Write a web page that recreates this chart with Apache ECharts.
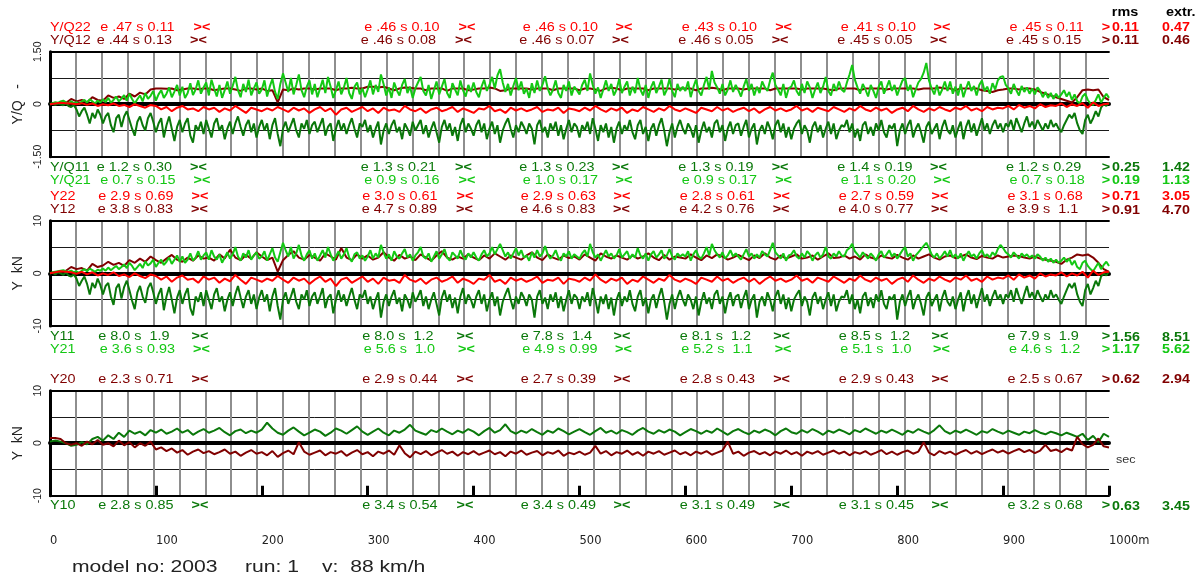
<!DOCTYPE html>
<html>
<head>
<meta charset="utf-8">
<script src="https://cdn.jsdelivr.net/npm/echarts@6/dist/echarts.min.js"></script>
<style>
html,body{margin:0;padding:0;background:#fff}
#chart{width:1204px;height:580px}
</style>
</head>
<body>
<div id="chart"></div>
<script>
// Lateral forces along a 1000 m run. Coarse traces are sampled every 5 m,
// the noisy wheel traces every 2.5 m.
const STEP = 5;
const STEP_FINE = 2.5;
const SPEED_KMH = 88;

// ---- panel 1: Y/Q ratios ----
const yq12 = [
 0.00,0.02,0.03,0.03,0.15,0.08,0.12,0.05,0.20,0.12,
 0.10,0.25,0.18,0.22,0.15,0.30,0.22,0.33,0.28,0.42,
 0.45,0.45,0.44,0.45,0.40,0.42,0.45,0.45,0.43,0.45,
 0.45,0.40,0.43,0.45,0.45,0.42,0.38,0.45,0.45,0.42,
 0.45,0.38,0.40,0.05,0.42,0.40,0.45,0.42,0.45,0.45,
 0.42,0.45,0.45,0.45,0.40,0.45,0.45,0.47,0.45,0.45,
 0.50,0.50,0.48,0.50,0.45,0.40,0.45,0.48,0.47,0.45,
 0.45,0.40,0.45,0.45,0.45,0.38,0.45,0.45,0.45,0.40,
 0.42,0.45,0.45,0.48,0.45,0.38,0.40,0.45,0.45,0.45,
 0.45,0.42,0.45,0.45,0.45,0.40,0.45,0.45,0.45,0.45,
 0.40,0.45,0.45,0.42,0.38,0.45,0.47,0.45,0.40,0.45,
 0.45,0.45,0.45,0.40,0.45,0.45,0.45,0.45,0.42,0.45,
 0.45,0.45,0.40,0.45,0.45,0.47,0.45,0.40,0.45,0.45,
 0.45,0.42,0.45,0.45,0.45,0.45,0.40,0.45,0.45,0.45,
 0.45,0.45,0.42,0.45,0.45,0.45,0.45,0.42,0.40,0.45,
 0.45,0.45,0.45,0.40,0.45,0.45,0.45,0.45,0.42,0.45,
 0.45,0.45,0.45,0.45,0.42,0.45,0.45,0.45,0.48,0.45,
 0.45,0.40,0.45,0.45,0.45,0.45,0.40,0.38,0.35,0.40,
 0.42,0.45,0.45,0.42,0.45,0.45,0.42,0.35,0.30,0.25,
 0.20,0.15,0.10,0.05,0.20,0.40,0.42,0.40,0.42,0.20,
 0.12
];
const yq22 = [
 0.00,0.02,0.04,0.03,0.02,0.00,0.03,-0.02,0.02,-0.05,
 0.00,-0.03,0.02,-0.05,-0.02,-0.08,0.00,-0.05,-0.10,-0.02,
 -0.05,-0.15,-0.08,-0.20,-0.10,-0.05,-0.15,-0.12,-0.20,-0.08,
 -0.15,-0.10,-0.22,-0.12,-0.18,-0.05,-0.15,-0.25,-0.10,-0.15,
 -0.20,-0.12,-0.18,-0.08,-0.15,-0.22,-0.10,-0.18,-0.12,-0.25,
 -0.15,-0.08,-0.20,-0.12,-0.30,-0.15,-0.10,-0.22,-0.15,-0.08,
 -0.20,-0.12,-0.25,-0.10,-0.18,-0.15,-0.22,-0.05,-0.15,-0.20,
 -0.12,-0.25,-0.15,-0.10,-0.20,-0.15,-0.08,-0.22,-0.12,-0.18,
 -0.25,-0.12,-0.15,-0.05,-0.20,-0.15,-0.25,-0.10,-0.18,-0.12,
 -0.20,-0.15,-0.08,-0.22,-0.15,-0.18,-0.10,-0.25,-0.12,-0.15,
 -0.20,-0.10,-0.18,-0.05,-0.15,-0.22,-0.12,-0.18,-0.10,-0.25,
 -0.15,-0.20,-0.08,-0.15,-0.22,-0.12,-0.18,-0.05,-0.15,-0.20,
 -0.12,-0.18,-0.25,-0.10,-0.15,-0.20,-0.08,-0.18,-0.12,-0.22,
 -0.15,-0.10,-0.20,-0.12,-0.25,-0.15,-0.08,-0.18,-0.12,-0.20,
 -0.15,-0.05,-0.18,-0.12,-0.22,-0.10,-0.15,-0.20,-0.08,-0.15,
 -0.22,-0.12,-0.18,-0.05,-0.15,-0.20,-0.10,-0.18,-0.12,-0.25,
 -0.15,-0.10,-0.20,-0.05,-0.15,-0.22,-0.12,-0.18,-0.08,-0.15,
 -0.20,-0.10,-0.15,-0.05,-0.18,-0.12,-0.20,-0.08,-0.15,-0.10,
 -0.12,-0.05,-0.15,-0.02,-0.10,-0.05,-0.12,0.00,-0.08,-0.03,
 -0.05,0.02,-0.08,0.00,-0.05,0.03,-0.10,0.05,-0.05,0.00,
 0.02
];
const yq21 = [
 0.00,0.03,0.06,0.04,0.08,0.10,0.05,0.02,0.08,0.03,0.06,0.00,0.08,0.12,0.05,0.14,0.08,0.02,0.10,0.05,
 0.14,0.06,0.18,0.04,0.12,0.22,0.08,0.16,0.26,0.10,0.30,0.15,0.02,0.14,0.25,0.08,0.32,0.15,0.24,0.38,
 0.10,0.28,0.40,0.18,0.30,0.48,0.20,0.36,0.55,0.25,0.50,0.18,0.32,0.60,0.26,0.42,0.68,0.30,0.48,0.62,
 0.25,0.70,0.45,0.22,0.55,0.18,0.40,0.65,0.30,0.52,0.78,0.40,0.20,0.58,0.35,0.70,0.25,0.45,0.62,0.30,
 0.42,0.68,0.22,0.50,0.72,0.35,0.15,0.58,0.88,0.62,0.35,0.75,0.28,0.55,0.85,0.40,0.20,0.50,0.68,0.28,
 0.58,0.20,0.45,0.70,0.32,0.78,0.50,0.18,0.40,0.65,0.28,0.48,0.75,0.32,0.15,0.50,0.62,0.28,0.45,0.20,
 0.42,0.68,0.28,0.55,0.35,0.85,0.58,0.25,0.48,0.18,0.62,0.40,0.25,0.55,0.72,0.32,0.50,0.18,0.45,0.62,
 0.78,0.38,0.25,0.55,0.15,0.40,0.65,0.28,0.50,0.72,0.32,0.18,0.60,0.42,0.25,0.68,0.40,0.22,0.55,0.35,
 0.62,0.35,0.20,0.50,0.70,0.38,0.55,0.78,0.45,0.82,1.00,0.62,0.35,0.58,0.25,0.52,0.75,0.40,0.65,0.30,
 0.45,0.18,0.60,0.32,0.68,0.38,0.55,0.80,0.45,0.25,0.42,0.68,0.32,0.18,0.55,0.38,0.65,0.25,0.50,0.40,
 0.28,0.55,0.70,0.38,0.88,0.55,0.30,0.48,0.18,0.42,0.68,0.38,0.58,0.25,0.42,0.72,0.32,0.50,0.65,0.25,
 0.50,0.32,0.75,0.42,0.25,0.55,0.18,0.48,0.65,0.32,0.50,0.70,0.25,0.42,0.72,0.38,0.20,0.58,0.38,0.50,
 0.38,0.65,0.20,0.48,0.70,0.38,0.25,0.55,0.78,0.42,0.95,0.62,0.48,0.30,0.58,0.25,0.42,0.68,0.35,0.55,
 0.40,0.22,0.50,0.72,0.38,0.58,0.25,0.50,0.32,0.65,0.48,0.38,0.68,0.90,0.55,0.42,0.25,0.58,0.18,0.45,
 0.50,0.68,0.38,0.25,0.58,0.32,0.65,0.48,0.18,0.42,0.62,0.32,0.50,0.78,0.38,0.25,0.58,0.38,0.65,0.42,
 0.35,0.62,0.85,1.12,0.70,0.48,0.30,0.58,0.42,0.22,0.55,0.38,0.18,0.50,0.65,0.30,0.48,0.68,0.38,0.55,
 0.25,0.48,0.68,0.75,0.38,0.55,0.20,0.42,0.62,0.72,0.90,1.18,0.68,0.45,0.28,0.55,0.25,0.42,0.65,0.38,
 0.65,0.30,0.50,0.25,0.58,0.20,0.45,0.65,0.38,0.52,0.25,0.55,0.68,0.38,0.50,0.30,0.60,0.42,0.68,0.78,
 0.80,0.55,0.45,0.30,0.58,0.40,0.25,0.52,0.35,0.48,0.30,0.45,0.28,0.48,0.38,0.20,0.35,0.18,0.32,0.15,
 0.30,0.18,0.28,0.40,0.22,0.35,0.12,0.28,0.08,0.02,0.22,0.30,0.12,0.02,-0.02,0.12,0.28,0.05,0.18,0.30,
 0.18
];
const yq11 = [
 0.00,0.01,-0.02,0.02,0.00,-0.03,0.02,-0.05,-0.08,-0.02,-0.15,-0.35,-0.20,-0.10,-0.30,-0.55,-0.25,-0.40,-0.15,-0.30,
 -0.55,-0.35,-0.25,-0.60,-0.80,-0.40,-0.30,-0.65,-0.35,-0.20,-0.45,-0.70,-0.90,-0.50,-0.35,-0.60,-0.75,-0.40,-0.25,-0.50,
 -0.80,-0.55,-0.40,-0.95,-0.60,-0.35,-0.70,-1.05,-0.65,-0.45,-0.80,-0.55,-0.40,-0.90,-1.10,-0.60,-0.75,-0.50,-0.85,-0.45,
 -0.70,-0.95,-0.55,-0.40,-0.75,-0.60,-1.00,-0.70,-0.50,-0.85,-0.55,-0.35,-0.65,-0.90,-0.60,-0.45,-0.80,-0.55,-0.95,-0.65,
 -0.45,-0.75,-0.55,-1.00,-0.60,-0.40,-0.85,-1.20,-0.70,-0.50,-0.80,-0.60,-0.40,-0.75,-0.95,-0.55,-0.70,-0.45,-0.85,-0.60,
 -0.50,-0.80,-0.60,-0.40,-0.90,-0.65,-0.55,-1.05,-0.70,-0.45,-0.75,-0.55,-0.85,-0.60,-0.40,-0.70,-0.95,-0.55,-0.65,-0.45,
 -0.80,-0.60,-0.95,-0.70,-0.50,-1.15,-0.75,-0.55,-0.85,-0.60,-0.45,-0.80,-0.65,-1.00,-0.55,-0.70,-0.90,-0.50,-0.75,-0.60,
 -0.45,-0.85,-0.60,-0.95,-0.70,-0.50,-0.80,-1.10,-0.65,-0.45,-0.75,-0.55,-0.90,-0.65,-1.05,-0.60,-0.40,-0.80,-0.55,-0.70,
 -0.90,-0.60,-0.45,-0.80,-0.55,-1.00,-0.70,-0.50,-0.85,-0.60,-1.10,-0.75,-0.55,-0.40,-0.70,-0.95,-0.60,-0.80,-0.50,-0.65,
 -0.85,-0.55,-0.70,-1.15,-0.60,-0.45,-0.80,-0.65,-0.95,-0.55,-0.75,-0.50,-0.90,-0.60,-1.00,-0.70,-0.45,-0.80,-0.55,-0.65,
 -0.95,-0.60,-0.75,-0.50,-0.85,-0.40,-0.70,-1.05,-0.60,-0.80,-0.55,-0.95,-0.65,-1.10,-0.70,-0.50,-0.85,-0.60,-0.75,-0.45,
 -0.80,-1.00,-0.60,-0.45,-0.85,-0.65,-1.05,-0.70,-0.55,-0.90,-0.60,-0.40,-0.75,-1.20,-0.80,-0.55,-0.95,-0.65,-0.45,-0.70,
 -0.85,-0.55,-0.70,-0.95,-0.60,-1.10,-0.75,-0.50,-0.80,-0.65,-0.95,-0.55,-0.45,-0.80,-0.60,-1.05,-0.70,-0.50,-0.85,-0.60,
 -0.55,-0.90,-0.65,-0.45,-0.95,-0.70,-0.55,-1.15,-0.75,-0.60,-0.85,-0.50,-0.70,-1.00,-0.60,-0.45,-0.80,-0.55,-0.95,-0.65,
 -1.00,-0.70,-0.55,-0.45,-0.85,-0.60,-0.75,-1.10,-0.65,-0.50,-0.80,-0.60,-0.95,-0.70,-0.50,-0.85,-0.55,-1.00,-0.75,-0.60,
 -0.65,-0.45,-0.80,-0.55,-0.95,-0.70,-1.05,-0.60,-0.50,-0.85,-0.65,-0.90,-0.55,-0.75,-0.45,-0.80,-0.95,-0.60,-0.70,-0.55,
 -1.20,-0.75,-0.55,-0.85,-0.60,-0.45,-0.95,-0.70,-0.55,-0.80,-1.10,-0.65,-0.50,-0.85,-0.70,-0.55,-1.00,-0.65,-0.45,-0.75,
 -0.85,-0.60,-0.95,-0.70,-0.50,-1.00,-0.65,-0.45,-0.80,-0.55,-0.90,-0.65,-0.40,-0.75,-0.55,-0.85,-0.60,-0.45,-0.70,-0.55,
 -0.80,-0.55,-0.65,-0.45,-0.75,-0.40,-0.60,-0.80,-0.55,-0.35,-0.65,-0.50,-0.70,-0.45,-0.60,-0.75,-0.55,-0.70,-0.45,-0.65,
 -0.55,-0.70,-0.80,-0.60,-0.45,-0.30,-0.40,-0.25,-0.55,-0.75,-0.85,-0.45,-0.30,-0.55,-0.40,-0.20,-0.35,-0.10,0.00,-0.05,
 0.05
];

// ---- panel 2: lateral forces Y, kN ----
const y12 = [
 0.0,0.2,0.3,0.5,1.2,0.8,1.0,0.5,1.8,1.2,
 1.5,2.2,1.6,2.0,1.4,2.5,2.0,2.8,2.2,3.2,
 2.5,2.0,2.8,3.5,2.6,2.2,3.0,2.4,3.4,2.8,
 3.0,2.4,3.6,2.8,4.5,3.0,2.5,3.5,2.8,4.0,
 3.2,2.5,3.0,0.3,2.5,3.5,4.2,3.0,2.6,3.5,
 3.0,2.4,3.8,3.2,2.6,4.8,3.0,2.5,3.6,2.8,
 3.4,2.6,3.0,4.0,3.0,2.4,3.5,2.8,3.2,2.5,
 3.6,3.0,2.4,3.4,4.2,3.0,2.6,3.2,2.8,3.6,
 3.0,2.5,3.4,2.8,3.8,3.2,2.6,3.4,3.0,2.6,
 3.4,4.0,3.0,2.5,3.6,3.0,2.6,3.4,2.9,3.2,
 2.6,3.6,3.0,2.4,3.8,3.2,2.8,3.4,3.0,2.6,
 3.4,2.8,3.2,3.8,3.0,2.5,3.5,2.6,3.2,3.0,
 2.8,3.6,3.0,2.5,3.4,2.9,3.6,3.2,2.6,3.0,
 3.5,3.0,2.5,3.4,2.9,3.8,3.0,2.6,3.4,2.8,
 3.2,3.6,2.8,3.0,3.4,2.6,3.2,3.8,2.9,3.0,
 3.4,2.8,3.2,2.6,3.6,3.0,2.7,3.4,3.0,2.8,
 3.5,3.0,2.6,3.4,2.8,3.2,3.6,3.0,2.6,3.2,
 3.4,2.9,3.2,3.6,3.0,2.7,3.3,3.0,2.8,3.4,
 3.0,3.2,3.4,3.3,3.0,2.8,3.2,2.8,2.6,2.4,
 2.2,1.8,2.6,3.0,3.6,3.4,3.6,3.0,2.0,0.8,
 0.3
];
const y22 = [
 0.0,0.2,0.4,0.3,0.2,-0.1,0.3,-0.2,0.2,-0.4,
 0.0,-0.3,0.2,-0.5,-0.2,-0.7,0.0,-0.5,-0.9,-0.2,
 -0.5,-1.2,-0.6,-1.6,-0.8,-0.4,-1.2,-1.0,-1.8,-0.6,
 -1.2,-0.8,-1.8,-1.0,-1.5,-0.3,-1.2,-2.0,-0.8,-1.2,
 -1.6,-1.0,-1.4,-0.5,-1.2,-1.8,-0.8,-1.4,-1.0,-2.0,
 -1.2,-0.6,-1.6,-1.0,-2.4,-1.2,-0.8,-1.8,-1.2,-0.6,
 -1.6,-1.0,-2.0,-0.8,-1.4,-1.2,-1.8,-0.3,-1.2,-1.6,
 -1.0,-2.0,-1.2,-0.8,-1.6,-1.2,-0.6,-1.8,-1.0,-1.4,
 -2.0,-1.0,-1.2,-0.3,-1.6,-1.2,-2.0,-0.8,-1.4,-1.0,
 -1.6,-1.2,-0.6,-1.8,-1.2,-1.4,-0.8,-2.0,-1.0,-1.2,
 -1.6,-0.8,-1.4,-0.2,-1.2,-1.8,-1.0,-1.4,-0.8,-2.0,
 -1.2,-1.6,-0.6,-1.2,-1.8,-1.0,-1.4,-0.3,-1.2,-1.6,
 -1.0,-1.4,-2.0,-0.8,-1.2,-1.6,-0.6,-1.4,-1.0,-1.8,
 -1.2,-0.8,-1.6,-1.0,-2.0,-1.2,-0.6,-1.4,-1.0,-1.6,
 -1.2,-0.4,-1.4,-1.0,-1.8,-0.8,-1.2,-1.6,-0.6,-1.2,
 -1.8,-1.0,-1.4,-0.4,-1.2,-1.6,-0.8,-1.4,-1.0,-2.0,
 -1.2,-0.8,-1.6,-0.4,-1.2,-1.8,-1.0,-1.4,-0.6,-1.2,
 -1.6,-0.8,-1.2,-0.4,-1.4,-1.0,-1.6,-0.6,-1.2,-0.8,
 -1.0,-0.4,-1.2,-0.2,-0.8,-0.4,-1.0,0.0,-0.6,-0.2,
 -0.4,0.2,-0.6,0.0,-0.4,0.3,-0.8,0.5,-0.3,0.2,
 0.3
];
const y21 = [
 0.0,0.2,0.3,0.4,0.5,0.6,0.4,0.3,0.5,0.2,0.4,0.1,0.5,0.8,0.4,0.9,0.6,0.3,0.7,0.5,
 0.9,0.5,1.1,0.6,1.0,1.4,0.8,1.2,1.7,1.0,2.0,1.4,0.6,1.2,1.8,1.0,2.3,1.5,1.9,2.6,
 1.2,2.0,2.6,1.6,2.2,3.0,1.8,2.6,3.4,2.2,3.2,2.0,2.6,3.8,2.4,3.0,4.2,2.6,3.4,4.0,
 2.6,4.4,3.2,2.6,3.6,2.0,3.0,4.0,2.8,3.6,5.0,3.2,2.4,3.8,3.0,4.4,2.6,3.4,4.0,2.8,
 3.2,4.2,2.4,3.6,4.8,3.0,2.2,4.0,5.8,4.4,3.2,5.0,2.8,3.8,5.4,3.4,2.4,3.6,4.4,2.8,
 3.8,2.4,3.4,4.4,3.0,5.0,3.6,2.4,3.2,4.2,2.8,3.6,4.8,3.0,2.2,3.6,4.0,2.8,3.4,2.4,
 3.2,4.4,2.8,3.8,3.0,5.4,4.0,2.8,3.6,2.4,4.2,3.2,2.8,3.8,4.6,3.0,3.6,2.4,3.4,4.0,
 5.0,3.2,2.8,3.8,2.2,3.2,4.2,2.8,3.6,4.6,3.0,2.4,4.0,3.4,2.8,4.4,3.2,2.6,3.8,3.0,
 4.0,3.0,2.4,3.6,4.4,3.2,3.8,5.0,3.6,4.6,5.6,4.4,3.2,4.0,2.8,3.8,4.8,3.4,4.4,3.0,
 3.4,2.4,4.0,3.0,4.4,3.2,3.8,5.2,3.6,2.8,3.4,4.4,3.0,2.4,3.8,3.2,4.2,2.8,3.6,3.2,
 2.8,3.8,4.4,3.2,5.6,4.0,3.0,3.6,2.4,3.4,4.4,3.2,3.8,2.8,3.4,4.6,3.0,3.6,4.2,2.8,
 3.6,3.0,4.8,3.4,2.8,3.8,2.4,3.6,4.2,3.0,3.6,4.4,2.8,3.4,4.6,3.2,2.6,3.8,3.2,3.6,
 3.2,4.2,2.4,3.6,4.4,3.2,2.8,3.8,5.0,3.4,5.6,4.4,3.6,3.0,4.0,2.8,3.4,4.4,3.2,3.8,
 3.2,2.6,3.6,4.6,3.2,3.8,2.8,3.6,3.0,4.2,3.6,3.2,4.4,5.8,4.0,3.4,2.8,3.8,2.4,3.4,
 3.6,4.4,3.2,2.8,3.8,3.0,4.2,3.6,2.4,3.4,4.0,3.0,3.6,5.0,3.2,2.8,3.8,3.2,4.2,3.4,
 3.2,4.4,4.8,5.6,4.2,3.6,3.0,4.0,3.4,2.8,3.8,3.2,2.4,3.6,4.2,3.0,3.6,4.4,3.2,3.8,
 2.8,3.6,4.4,5.0,3.2,3.8,2.4,3.4,4.0,4.6,5.2,5.8,4.8,3.6,3.0,3.8,2.8,3.4,4.2,3.2,
 4.4,3.0,3.6,2.8,3.8,2.4,3.4,4.2,3.2,3.6,2.8,3.8,4.4,3.2,3.6,3.0,4.0,3.4,4.6,5.4,
 4.8,4.0,3.6,3.0,4.0,3.4,2.8,3.8,3.2,3.6,3.0,3.4,2.8,3.6,3.2,2.4,3.0,2.2,2.8,2.0,
 2.6,2.0,2.4,3.0,2.2,2.8,1.6,2.4,1.2,0.8,2.0,2.4,1.4,0.8,0.4,1.2,2.0,0.8,1.6,2.2,
 1.4
];
const y11 = [
 0.0,0.1,-0.2,0.2,0.0,-0.3,0.2,-0.4,-0.6,-0.2,-1.0,-2.4,-1.4,-0.6,-2.0,-4.0,-1.8,-2.8,-1.0,-2.2,
 -4.0,-2.4,-1.8,-4.4,-6.0,-2.8,-2.0,-4.8,-2.6,-1.4,-3.2,-5.2,-6.8,-3.6,-2.4,-4.4,-5.6,-2.8,-1.8,-3.6,
 -5.8,-4.0,-2.8,-7.0,-4.4,-2.6,-5.0,-7.6,-4.6,-3.2,-5.8,-4.0,-2.8,-6.6,-8.0,-4.4,-5.4,-3.6,-6.2,-3.2,
 -5.0,-6.8,-4.0,-2.8,-5.4,-4.4,-7.2,-5.0,-3.6,-6.2,-4.0,-2.4,-4.6,-6.6,-4.4,-3.2,-5.8,-4.0,-6.8,-4.6,
 -3.2,-5.4,-4.0,-7.2,-4.4,-2.8,-6.2,-8.8,-5.0,-3.6,-5.8,-4.4,-2.8,-5.4,-6.8,-4.0,-5.0,-3.2,-6.2,-4.4,
 -3.6,-5.8,-4.4,-2.8,-6.6,-4.6,-4.0,-7.6,-5.0,-3.2,-5.4,-4.0,-6.2,-4.4,-2.8,-5.0,-6.8,-4.0,-4.6,-3.2,
 -5.8,-4.4,-6.8,-5.0,-3.6,-8.4,-5.4,-4.0,-6.2,-4.4,-3.2,-5.8,-4.6,-7.2,-4.0,-5.0,-6.6,-3.6,-5.4,-4.4,
 -3.2,-6.2,-4.4,-6.8,-5.0,-3.6,-5.8,-8.0,-4.6,-3.2,-5.4,-4.0,-6.6,-4.6,-7.6,-4.4,-2.8,-5.8,-4.0,-5.0,
 -6.6,-4.4,-3.2,-5.8,-4.0,-7.2,-5.0,-3.6,-6.2,-4.4,-8.0,-5.4,-4.0,-2.8,-5.0,-6.8,-4.4,-5.8,-3.6,-4.6,
 -6.2,-4.0,-5.0,-8.4,-4.4,-3.2,-5.8,-4.6,-6.8,-4.0,-5.4,-3.6,-6.6,-4.4,-7.2,-5.0,-3.2,-5.8,-4.0,-4.6,
 -6.8,-4.4,-5.4,-3.6,-6.2,-2.8,-5.0,-7.6,-4.4,-5.8,-4.0,-6.8,-4.6,-8.0,-5.0,-3.6,-6.2,-4.4,-5.4,-3.2,
 -5.8,-7.2,-4.4,-3.2,-6.2,-4.6,-7.6,-5.0,-4.0,-6.6,-4.4,-2.8,-5.4,-8.8,-5.8,-4.0,-6.8,-4.6,-3.2,-5.0,
 -6.2,-4.0,-5.0,-6.8,-4.4,-8.0,-5.4,-3.6,-5.8,-4.6,-6.8,-4.0,-3.2,-5.8,-4.4,-7.6,-5.0,-3.6,-6.2,-4.4,
 -4.0,-6.6,-4.6,-3.2,-6.8,-5.0,-4.0,-8.4,-5.4,-4.4,-6.2,-3.6,-5.0,-7.2,-4.4,-3.2,-5.8,-4.0,-6.8,-4.6,
 -7.2,-5.0,-4.0,-3.2,-6.2,-4.4,-5.4,-8.0,-4.6,-3.6,-5.8,-4.4,-6.8,-5.0,-3.6,-6.2,-4.0,-7.2,-5.4,-4.4,
 -4.6,-3.2,-5.8,-4.0,-6.8,-5.0,-7.6,-4.4,-3.6,-6.2,-4.6,-6.6,-4.0,-5.4,-3.2,-5.8,-6.8,-4.4,-5.0,-4.0,
 -8.8,-5.4,-4.0,-6.2,-4.4,-3.2,-6.8,-5.0,-4.0,-5.8,-8.0,-4.6,-3.6,-6.2,-5.0,-4.0,-7.2,-4.6,-3.2,-5.4,
 -6.2,-4.4,-6.8,-5.0,-3.6,-7.2,-4.6,-3.2,-5.8,-4.0,-6.6,-4.6,-2.8,-5.4,-4.0,-6.2,-4.4,-3.2,-5.0,-4.0,
 -5.8,-4.0,-4.6,-3.2,-5.4,-2.8,-4.4,-5.8,-4.0,-2.4,-4.6,-3.6,-5.0,-3.2,-4.4,-5.4,-4.0,-5.0,-3.2,-4.6,
 -4.0,-5.0,-5.8,-4.4,-3.2,-2.0,-2.8,-1.8,-4.0,-5.4,-6.2,-3.2,-2.0,-4.0,-2.8,-1.4,-2.4,-0.6,0.0,-0.4,
 0.4
];

// ---- panel 3: Y, kN ----
const y20 = [
 1.0,1.0,0.8,0.0,-0.3,0.0,-0.5,0.3,-0.2,0.6,
 -0.3,0.0,-0.6,0.5,-0.4,0.2,-0.8,0.0,-0.5,0.3,
 -1.2,-0.8,-1.5,-1.0,-1.8,-1.3,-2.2,-1.6,-1.2,-1.9,
 -1.5,-2.1,-1.7,-1.2,-2.0,-1.6,-2.4,-1.8,-1.3,-2.0,
 -1.7,-2.3,-1.5,-2.6,-1.9,-1.4,-2.1,0.2,-1.6,-2.2,
 -1.8,-1.4,-2.3,-1.7,-2.0,-1.5,-2.4,-1.8,-1.3,-2.1,
 -1.7,-2.5,-1.6,-2.0,-1.4,-2.2,-0.4,-1.9,-2.7,-1.6,
 -2.1,-1.5,-2.3,-1.8,-1.3,-2.0,-1.6,-2.4,-1.7,-2.1,
 -1.5,-2.2,-1.8,-1.4,-2.1,-1.7,-2.5,-1.6,-2.0,-1.4,
 -2.2,-1.8,-1.5,-2.3,-1.7,-2.0,-1.4,-2.4,-1.8,-2.1,
 -1.6,-2.2,-1.8,-0.5,-2.0,-1.5,-2.3,-1.7,-2.0,-1.4,
 -2.2,-1.7,-2.4,-1.6,-2.0,-1.5,-2.2,-1.8,-1.4,-2.1,
 -1.7,-2.3,-1.6,-2.0,-1.5,-2.2,-1.8,-1.4,0.3,-2.0,
 -1.6,-2.4,-1.8,-1.5,-2.1,-1.7,-2.3,-1.6,-2.0,-1.4,
 -2.1,-1.7,-2.4,-1.6,-2.0,-1.5,-2.2,-1.8,-1.4,-2.0,
 -1.6,-2.3,-1.7,-2.0,-1.5,-2.2,-1.8,-1.3,-2.1,-1.6,
 -2.2,-1.7,-1.4,-2.0,-1.6,0.2,-1.8,-2.3,-1.5,-2.0,
 -1.6,-2.2,-1.7,-1.3,-2.0,-1.5,-2.1,-1.6,-1.2,-1.8,
 -1.4,-2.0,-1.5,-1.1,-1.7,-1.3,-1.9,-1.4,-0.3,-1.5,
 -1.2,-1.7,-1.0,-1.4,1.2,-0.2,-0.8,-0.3,0.9,-0.6,
 -0.8
];
const y10 = [
 0.3,0.5,0.3,0.0,-0.5,-0.3,0.2,-0.2,0.8,1.2,
 0.5,1.5,0.8,2.0,1.2,2.4,1.8,2.2,1.5,2.5,
 2.0,2.6,1.8,2.2,2.8,2.0,2.5,1.6,2.2,2.7,
 2.0,2.4,2.9,2.1,1.5,2.3,2.6,1.9,2.4,2.0,
 2.6,3.9,2.8,2.0,1.6,2.4,3.0,2.2,1.5,2.0,
 2.6,2.2,1.4,2.0,2.8,2.4,1.8,2.5,3.2,2.2,
 1.6,2.2,2.8,2.0,1.5,2.4,2.0,2.6,3.5,2.4,
 2.0,1.6,2.5,2.1,2.8,2.2,1.7,2.4,2.0,2.7,
 2.2,1.5,2.3,2.9,2.0,2.5,3.6,2.3,1.8,2.4,
 2.0,2.7,2.1,1.6,2.4,2.0,2.8,2.3,1.7,2.2,
 2.7,2.1,1.6,2.3,2.9,2.0,2.4,1.8,2.5,2.1,
 1.6,2.4,2.9,2.2,1.8,2.5,2.0,2.6,2.2,1.5,
 2.1,2.7,2.3,1.8,2.4,2.0,2.8,2.2,1.6,2.3,
 2.7,2.1,1.7,2.4,2.0,2.6,2.2,1.5,2.3,2.8,
 2.1,1.8,2.5,2.0,2.7,2.2,1.6,2.4,2.0,2.6,
 2.2,1.7,2.5,2.1,2.8,2.3,1.8,2.4,2.0,2.6,
 2.1,1.6,2.4,2.0,2.7,2.2,1.8,2.5,3.4,2.3,
 1.8,2.4,2.0,2.6,2.1,1.6,2.3,2.0,2.7,2.2,
 1.8,2.4,2.0,1.6,2.2,1.9,2.5,2.0,1.7,2.2,
 1.9,1.5,2.0,1.6,1.2,1.8,0.6,1.4,0.2,1.8,
 1.2
];

// ---- section statistics printed above / below the panels ----
const rowNames = ['Y/Q22','Y/Q12','Y/Q11','Y/Q21','Y22','Y12','Y11','Y21','Y20','Y10'];
const rowE = [
 ['.47','.46','.46','.43','.41','.45'],
 ['.44','.46','.46','.46','.45','.45'],
 ['1.2','1.3','1.3','1.3','1.4','1.2'],
 ['0.7','0.9','1.0','0.9','1.1','0.7'],
 ['2.9','3.0','2.9','2.8','2.7','3.1'],
 ['3.8','4.7','4.6','4.2','4.0','3.9'],
 ['8.0','8.0','7.8','8.1','8.5','7.9'],
 ['3.6','5.6','4.9','5.2','5.1','4.6'],
 ['2.3','2.9','2.7','2.8','2.9','2.5'],
 ['2.8','3.4','3.4','3.1','3.1','3.2']
];
const rowS = [
 ['0.11','0.10','0.10','0.10','0.10','0.11'],
 ['0.13','0.08','0.07','0.05','0.05','0.15'],
 ['0.30','0.21','0.23','0.19','0.19','0.29'],
 ['0.15','0.16','0.17','0.17','0.20','0.18'],
 ['0.69','0.61','0.63','0.61','0.59','0.68'],
 ['0.83','0.89','0.83','0.76','0.77','1.1'],
 ['1.9','1.2','1.4','1.2','1.2','1.9'],
 ['0.93','1.0','0.99','1.1','1.0','1.2'],
 ['0.71','0.44','0.39','0.43','0.43','0.67'],
 ['0.85','0.54','0.49','0.49','0.45','0.68']
];
const rowRms  = ['0.11','0.11','0.25','0.19','0.71','0.91','1.56','1.17','0.62','0.63'];
const rowExtr = ['0.47','0.46','1.42','1.13','3.05','4.70','8.51','5.62','2.94','3.45'];
const xTickLabels = ['0','100','200','300','400','500','600','700','800','900','1000m'];
const footer = ['model no: 2003', 'run: 1', 'v:  88 km/h'];

// ---- styling ----
const C = {
  darkred: '#800000', red: '#ff0000', lightgreen: '#14c814', darkgreen: '#0a780a',
  ink: '#1a1a1a', grid: '#8e8e8e'
};
const rowColor = [C.red, C.darkred, C.darkgreen, C.lightgreen, C.red, C.darkred, C.darkgreen, C.lightgreen, C.darkred, C.darkgreen];
const rowY = [27.3, 40.7, 167.3, 180.7, 196.7, 210, 337, 349.5, 379.3, 506];
const rowShift = [2.5, -1, -1, 2.5, 0.5, 0, 0.5, 2, 0.5, 0.5];
const colX = [97.7, 361.7, 520.3, 679.3, 838.3, 1007];
const markX = [191, 456, 613, 772.7, 931];

const panels = [
  { top: 51.7, height: 105, min: -1.5, max: 1.5, interval: 0.75, name: 'Y/Q   -',
    fmt: v => v === 1.5 ? '1.50' : v === -1.5 ? '-1.50' : v === 0 ? '0' : '',
    lines: [[yq12, STEP, C.darkred], [yq11, STEP_FINE, C.darkgreen], [yq21, STEP_FINE, C.lightgreen], [yq22, STEP, C.red]] },
  { top: 220.7, height: 105.3, min: -10, max: 10, interval: 5, name: 'Y  kN',
    fmt: v => (v === 10 || v === -10 || v === 0) ? String(v) : '',
    lines: [[y12, STEP, C.darkred], [y11, STEP_FINE, C.darkgreen], [y21, STEP_FINE, C.lightgreen], [y22, STEP, C.red]] },
  { top: 390.7, height: 105, min: -10, max: 10, interval: 5, name: 'Y  kN',
    fmt: v => (v === 10 || v === -10 || v === 0) ? String(v) : '',
    lines: [[y10, STEP, C.darkgreen], [y20, STEP, C.darkred]] }
];

// one vertical grid line per second of travel
const secInterval = SPEED_KMH / 3.6;
const secTicks = Math.floor(1000 / secInterval) + 2;
const secColors = [];
for (let k = 0; k < secTicks; k++) secColors.push(k === secTicks - 1 ? 'rgba(0,0,0,0)' : C.grid);

const grids = [], xAxes = [], yAxes = [], series = [];
panels.forEach((p, g) => {
  grids.push({ left: 50, top: p.top, width: 1059, height: p.height });
  // second grid lines + zero line
  xAxes.push({
    gridIndex: g, type: 'value', min: 0, max: 1000, interval: secInterval, position: 'bottom',
    axisLine: { show: true, onZero: true, lineStyle: { color: '#000', width: 4 } },
    axisTick: { show: false }, axisLabel: { show: false },
    splitLine: { show: true, lineStyle: { color: secColors, width: 2 } }
  });
  // top frame
  xAxes.push({
    gridIndex: g, type: 'value', min: 0, max: 1000, position: 'top',
    axisLine: { show: true, onZero: false, lineStyle: { color: '#000', width: 1.8 } },
    axisTick: { show: false }, axisLabel: { show: false }, splitLine: { show: false }
  });
  // bottom frame (distance labels on the last panel)
  const last = g === panels.length - 1;
  xAxes.push({
    gridIndex: g, type: 'value', min: 0, max: 1000, interval: 100, position: 'bottom',
    axisLine: { show: true, onZero: false, lineStyle: { color: '#000', width: 2 } },
    axisTick: { show: last, inside: true, length: 10, lineStyle: { color: '#000', width: 3 } },
    axisLabel: {
      show: last, align: 'left', margin: 39, color: '#222', fontSize: 11.5,
      fontFamily: '"DejaVu Sans", sans-serif', showMinLabel: true, showMaxLabel: true,
      formatter: v => xTickLabels[Math.round(v / 100)]
    },
    splitLine: { show: false }
  });
  yAxes.push({
    gridIndex: g, type: 'value', min: p.min, max: p.max, interval: p.interval,
    axisLine: { show: true, onZero: false, lineStyle: { color: '#000', width: 3 } },
    axisTick: { show: false },
    splitLine: { show: true, lineStyle: { color: C.ink, width: 1 } },
    axisLabel: { rotate: 90, fontSize: 10.5, color: '#222', margin: 6, showMinLabel: true, showMaxLabel: true,
      fontFamily: '"Liberation Sans", Arial, sans-serif', formatter: p.fmt },
    name: p.name, nameLocation: 'middle', nameGap: 24,
    nameTextStyle: { fontSize: 14, color: '#222', fontFamily: '"Liberation Sans", Arial, sans-serif' }
  });
  p.lines.forEach(([arr, step, color]) => {
    series.push({
      type: 'line', xAxisIndex: g * 3, yAxisIndex: g,
      data: arr.map((v, i) => [i * step, v]),
      showSymbol: false, symbol: 'none', silent: true,
      lineStyle: { color, width: 2 }, itemStyle: { color }
    });
  });
});

// ---- text annotations ----
const FONT = '"Liberation Sans", Arial, sans-serif';
function txt(x, y, s, fill, size, bold, sx, align) {
  return {
    type: 'text', x, y, scaleX: sx, silent: true,
    style: {
      text: s, fill, font: (bold ? 'bold ' : '') + size + 'px ' + FONT,
      align: align || 'left', verticalAlign: 'middle',
      textAlign: align || 'left', textVerticalAlign: 'middle'
    }
  };
}
const pad4 = s => (s.length < 4 ? ' ' + s : s);
const graphics = [];
graphics.push(txt(1125, 12.7, 'rms', '#000', 12, true, 1.2, 'center'));
graphics.push(txt(1166, 12.7, 'extr.', '#000', 12, true, 1.2, 'left'));
rowNames.forEach((nm, r) => {
  const col = rowColor[r], y = rowY[r], d = rowShift[r];
  graphics.push(txt(50, y, nm, col, 12, false, 1.2));
  rowE[r].forEach((e, c) => {
    graphics.push(txt(colX[c] + d, y, 'e ' + e + ' s ' + pad4(rowS[r][c]), col, 12, false, 1.2));
  });
  markX.forEach(mx => graphics.push(txt(mx + d, y, '><', col, 12, true, 1.2)));
  graphics.push(txt(1101.7, y, '>', col, 12, true, 1.2));
  graphics.push(txt(1112, y, rowRms[r], col, 13, true, 1.1));
  graphics.push(txt(1162, y, rowExtr[r], col, 13, true, 1.1));
});
graphics.push(txt(1116, 460, 'sec', '#333', 10.5, false, 1.2));
graphics.push(txt(72, 567, footer[0], '#222', 16.5, false, 1.28));
graphics.push(txt(245, 567, footer[1], '#222', 16.5, false, 1.28));
graphics.push(txt(322, 567, footer[2], '#222', 16.5, false, 1.28));

const chart = echarts.init(document.getElementById('chart'), null, { renderer: 'canvas' });
chart.setOption({
  animation: false,
  backgroundColor: '#ffffff',
  grid: grids, xAxis: xAxes, yAxis: yAxes, series,
  graphic: { elements: graphics }
});
</script>
</body>
</html>
